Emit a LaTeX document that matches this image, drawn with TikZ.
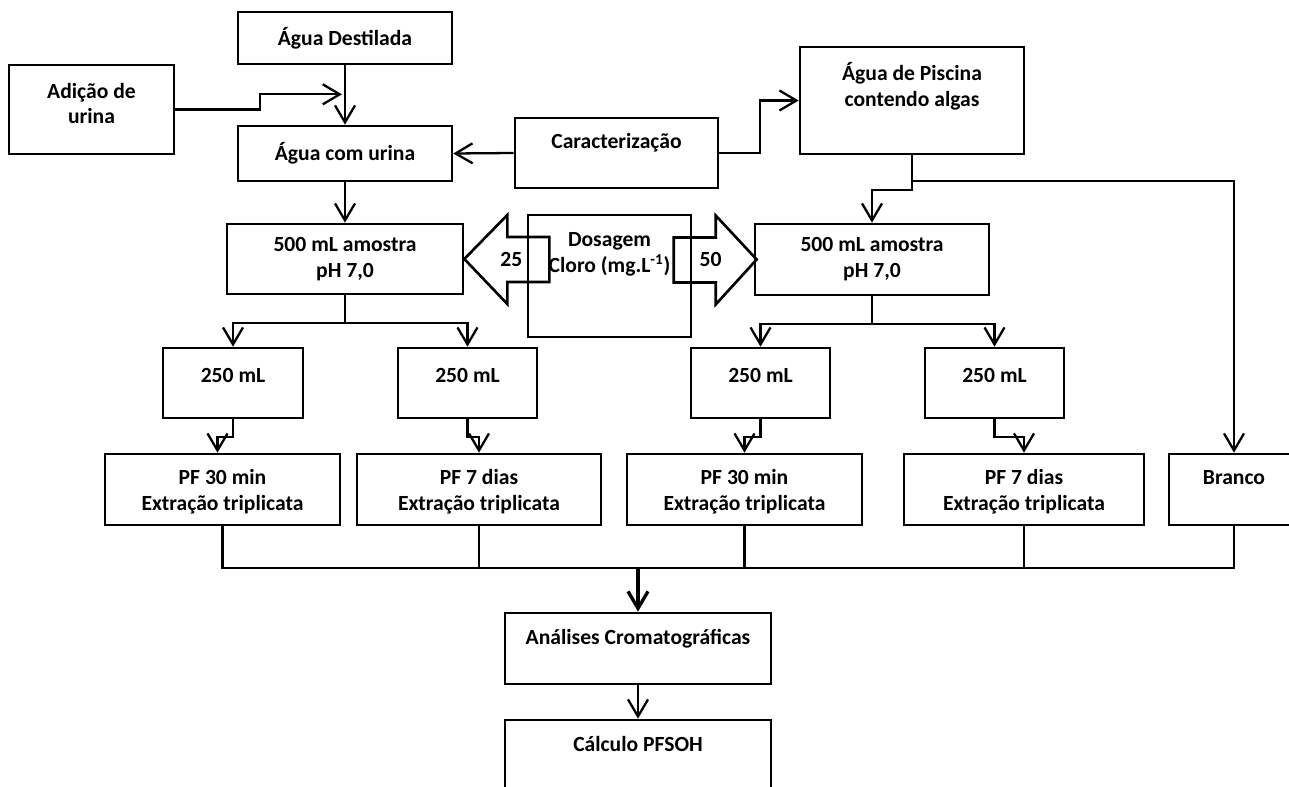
\documentclass[tikz,border=0pt]{standalone}
\usepackage{fontspec}
\setmainfont{Carlito}
\usetikzlibrary{positioning,arrows.meta,calc}

\begin{document}
\begin{tikzpicture}[
    x=0.02cm, y=-0.02cm,
    font=\bfseries\fontsize{12.3}{14.7}\selectfont,
    box/.style 2 args={rectangle,draw,line width=1.5pt,minimum width=#1*0.02cm,minimum height=#2*0.02cm,inner sep=0pt,align=center},
    every label/.style={align=center},
    arrow/.style={-{Straight Barb[length=3.4mm,width=4mm]},line width=1.3pt},
    line/.style={line width=1.3pt},
    blockarrow/.style={draw,line width=1.5pt,line join=miter}
]

\useasboundingbox (0,0) rectangle (1289,787);

% Top: water samples
\node[box={214}{52}] (destilada) at (345,38) {Água Destilada};
\node[box={165}{89},label={[yshift=0.12cm]center:Adição de\\urina}] (adicao) at (91.5,109.5) {};
\node[box={214}{55}] (comurina) at (345,153.5) {Água com urina};
\node[box={203}{70},label={[yshift=0.2cm]center:Caracterização}] (caract) at (616.5,153) {};
\node[box={224}{107},label={[yshift=0.29cm]center:Água de Piscina\\contendo algas}] (piscina) at (912,100.5) {};

% 500 mL samples and chlorine dose
\node[box={236}{70}] (amostraA) at (345,259) {500 mL amostra\\pH 7,0};
\node[box={163}{122},label={[yshift=0.43cm]center:Dosagem\\Cloro (mg.L\textsuperscript{-1})}] (dosagem) at (609.5,276) {};
\node[box={234}{71}] (amostraB) at (872,259.5) {500 mL amostra\\pH 7,0};

% 250 mL aliquots
\node[box={140}{70},label={[yshift=0.16cm]center:250 mL}] (ml1) at (233,383) {};
\node[box={139}{70},label={[yshift=0.16cm]center:250 mL}] (ml2) at (467.5,383) {};
\node[box={139}{70},label={[yshift=0.16cm]center:250 mL}] (ml3) at (760.5,383) {};
\node[box={139}{70},label={[yshift=0.16cm]center:250 mL}] (ml4) at (994.5,383) {};

% Extractions
\node[box={235}{71},label={[yshift=-0.05cm]center:PF 30 min\\Extração triplicata}] (pf1) at (222.5,489.5) {};
\node[box={244}{71},label={[yshift=-0.05cm]center:PF 7 dias\\Extração triplicata}] (pf2) at (479,489.5) {};
\node[box={235}{71},label={[yshift=-0.05cm]center:PF 30 min\\Extração triplicata}] (pf3) at (744.5,489.5) {};
\node[box={240}{71},label={[yshift=-0.05cm]center:PF 7 dias\\Extração triplicata}] (pf4) at (1024,489.5) {};
\node[box={130}{71},label={[yshift=0.23cm]center:Branco}] (branco) at (1234,489.5) {};

% Analysis
\node[box={266}{71},label={[yshift=0.19cm]center:Análises Cromatográficas}] (analises) at (638,648.5) {};
\node[box={266}{71},label={[yshift=0.23cm]center:Cálculo PFSOH}] (calculo) at (638,755.5) {};

% Connectors at the top
\draw[arrow] (adicao.east) -- ++(85,0) |- ($(destilada.south)+(-3,29)$);
\draw[arrow] (destilada) -- (comurina);
\draw[arrow] (caract.west) -- (comurina.east);
\draw[arrow] (caract.east) -- ++(41,0) |- (piscina.west);
\draw[arrow] (comurina) -- (amostraA);
\draw[arrow] (piscina.south) -- ++(0,35) -| (amostraB.north);
\draw[arrow] (piscina.south) -- ++(0,26) -| (branco.north);

% Chlorine dose arrows
\draw[blockarrow] (amostraA.east) -- ++(43,-44) -- ++(0,22) -- ++(42,0) -- ++(0,45) -- ++(-42,0) -- ++(0,22) -- cycle;
\node (dose25) at ($(amostraA.east)+(47,0)$) {25};
\draw[blockarrow] ($(amostraB.west)+(3,0)$) -- ++(-41,-44) -- ++(0,22) -- ++(-42,0) -- ++(0,45) -- ++(42,0) -- ++(0,22) -- cycle;
\node (dose50) at ($(amostraB.west)+(-43,0)$) {50};

% Split into 250 mL
\foreach \a/\l/\r in {amostraA/ml1/ml2, amostraB/ml3/ml4} {
    \draw[arrow] (\a.south) -- ++(0,28) -| (\l.north);
    \draw[arrow] (\a.south) -- ++(0,28) -| (\r.north);
}

% 250 mL to extractions
\draw[arrow] (ml1.south) -- ++(0,18) -| ($(pf1.north)+(-5,0)$);
\draw[arrow] (ml2.south) -- ++(0,18) -| (pf2.north);
\draw[arrow] (ml3.south) -- ++(0,18) -| (pf3.north);
\draw[arrow] (ml4.south) -- ++(0,18) -| (pf4.north);

% Collect everything
\coordinate (bus) at ($(analises.north)+(0,-44)$);
\draw[line] (pf1.south) |- (bus) -| (branco.south);
\foreach \p in {pf2,pf3,pf4} {
    \draw[line] (\p.south) -- (\p.south |- bus);
}
\draw[arrow,line width=1.9pt] (bus) -- (analises);
\draw[arrow] (analises) -- (calculo);

\end{tikzpicture}
\end{document}
